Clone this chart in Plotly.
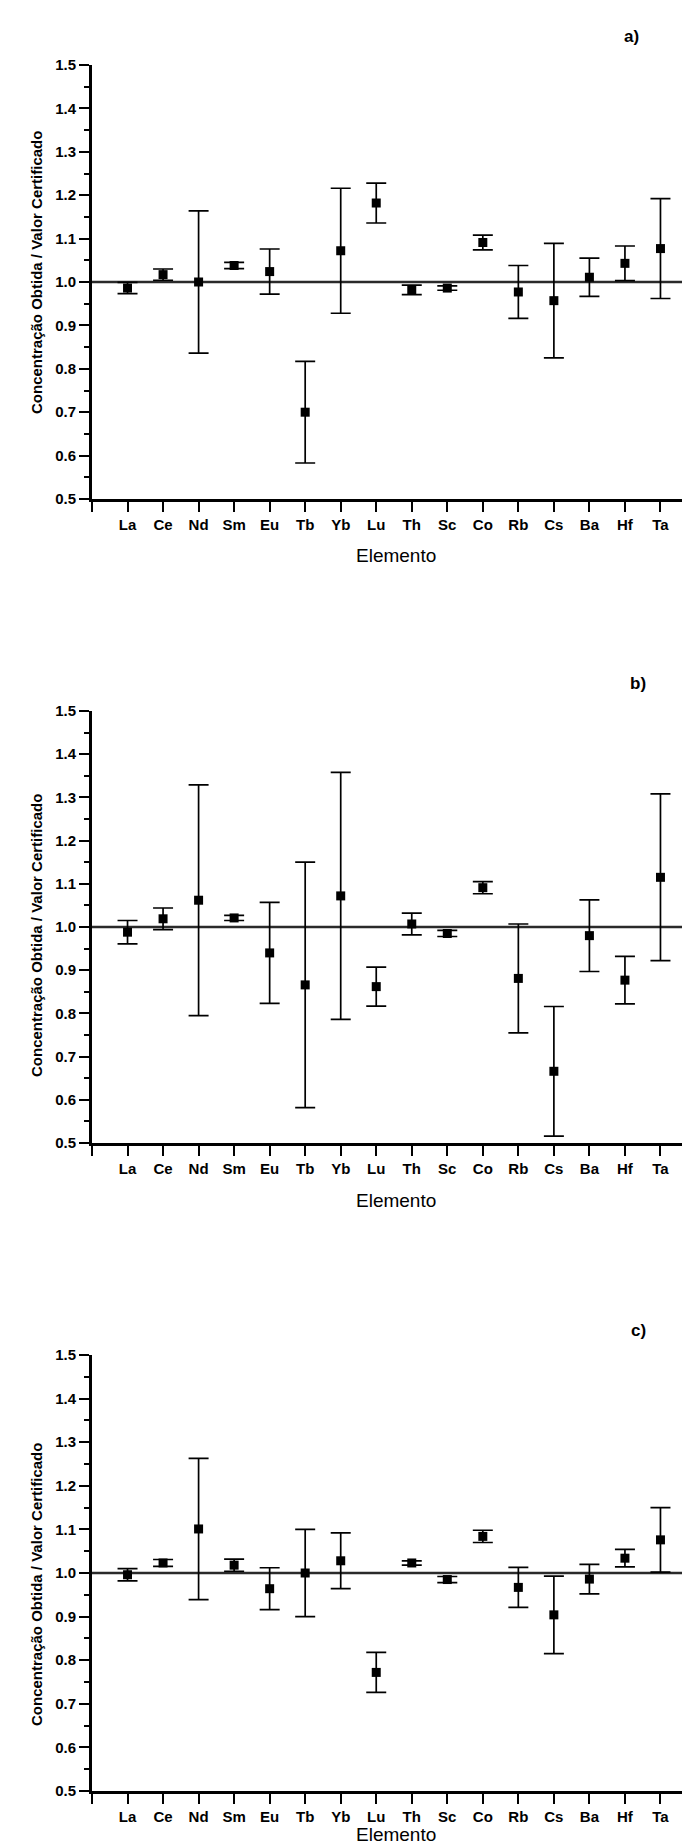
import plotly.graph_objects as go

# ---------------- data ----------------
elements = ["La", "Ce", "Nd", "Sm", "Eu", "Tb", "Yb", "Lu", "Th", "Sc", "Co", "Rb", "Cs", "Ba", "Hf", "Ta"]
positions = list(range(1, len(elements) + 1))

ratio_a = [0.986, 1.017, 1.000, 1.038, 1.024, 0.700, 1.072, 1.182, 0.982, 0.986, 1.091, 0.977, 0.957, 1.011, 1.043, 1.077]
err_a   = [0.013, 0.013, 0.164, 0.007, 0.052, 0.117, 0.144, 0.046, 0.011, 0.005, 0.017, 0.061, 0.132, 0.044, 0.040, 0.115]

ratio_b = [0.988, 1.019, 1.062, 1.021, 0.940, 0.866, 1.072, 0.862, 1.007, 0.985, 1.091, 0.881, 0.666, 0.980, 0.877, 1.115]
err_b   = [0.027, 0.025, 0.267, 0.006, 0.117, 0.284, 0.286, 0.045, 0.025, 0.007, 0.014, 0.126, 0.150, 0.083, 0.055, 0.193]

ratio_c = [0.996, 1.023, 1.101, 1.018, 0.964, 1.000, 1.028, 0.772, 1.023, 0.985, 1.084, 0.967, 0.904, 0.986, 1.034, 1.076]
err_c   = [0.014, 0.008, 0.162, 0.014, 0.048, 0.100, 0.064, 0.046, 0.005, 0.007, 0.014, 0.046, 0.089, 0.034, 0.020, 0.074]

panel_labels = ["a)", "b)", "c)"]
reference_value = 1.0
y_ticks = [0.5, 0.6, 0.7, 0.8, 0.9, 1.0, 1.1, 1.2, 1.3, 1.4, 1.5]
x_title = "Elemento"
y_title = "Concentração Obtida / Valor Certificado"

# ---------------- layout geometry (pixels) ----------------
W, H = 690, 1848
x_left_px, x_right_px = 84, 688
panels_px = [(57, 491), (703, 1135), (1347, 1783)]   # (top, bottom) of each y-axis
ytitle_center_px = [265, 928, 1577]
xtitle_center_px = [547, 1192, 1826]
label_px = [(623, 29), (630, 675), (630, 1322)]

FONT = "Liberation Sans, Arial, sans-serif"

def fx(px):
    return px / W

def fy(py):
    return 1 - py / H

fig = go.Figure()
datasets = [(ratio_a, err_a), (ratio_b, err_b), (ratio_c, err_c)]

layout_axes = {}
annotations = []
for i, ((vals, errs), (top, bot)) in enumerate(zip(datasets, panels_px)):
    n = i + 1
    xa = "x" if n == 1 else f"x{n}"
    ya = "y" if n == 1 else f"y{n}"
    # reference line at 1.0 across the full x range
    fig.add_trace(go.Scatter(
        x=[0, len(elements) + 1], y=[reference_value, reference_value],
        mode="lines", line=dict(color="#2a2a2a", width=2.6),
        xaxis=xa, yaxis=ya, showlegend=False, hoverinfo="skip"))
    fig.add_trace(go.Scatter(
        x=positions, y=vals, mode="markers",
        marker=dict(symbol="square", size=9, color="black"),
        error_y=dict(type="data", array=errs, visible=True, color="black",
                     thickness=1.7, width=10),
        xaxis=xa, yaxis=ya, showlegend=False))

    xkey = "xaxis" if n == 1 else f"xaxis{n}"
    ykey = "yaxis" if n == 1 else f"yaxis{n}"
    layout_axes[xkey] = dict(
        domain=[fx(x_left_px), fx(x_right_px)],
        anchor=ya, range=[0, len(elements) + 1],
        tickmode="array", tickvals=[0] + positions + [len(elements) + 1],
        ticktext=[""] + elements + [""],
        ticks="outside", ticklen=10, tickwidth=2, tickcolor="black",
        showline=True, linecolor="black", linewidth=2.8,
        showgrid=False, zeroline=False, automargin=False,
        tickfont=dict(family=FONT, size=15, color="black", weight="bold"),
    )
    layout_axes[ykey] = dict(
        domain=[fy(bot), fy(top)],
        anchor=xa, range=[0.5, 1.5],
        tickmode="array", tickvals=y_ticks,
        ticktext=[f"{v:.1f}" for v in y_ticks],
        ticks="outside", ticklen=10, tickwidth=2, tickcolor="black",
        minor=dict(dtick=0.05, tick0=0.5, ticks="outside", ticklen=5,
                   tickwidth=1.5, tickcolor="black", showgrid=False),
        showline=True, linecolor="black", linewidth=2.8,
        showgrid=False, zeroline=False, automargin=False,
        tickfont=dict(family=FONT, size=15, color="black", weight="bold"),
    )
    annotations.append(dict(
        text=y_title, xref="paper", yref="paper",
        x=fx(28), y=fy(ytitle_center_px[i]), xanchor="center", yanchor="middle",
        textangle=-90, showarrow=False,
        font=dict(family=FONT, size=15, color="black", weight="bold")))
    annotations.append(dict(
        text=x_title, xref="paper", yref="paper",
        x=fx(388), y=fy(xtitle_center_px[i]), xanchor="center", yanchor="middle",
        showarrow=False, font=dict(family=FONT, size=19, color="black")))
    lx, ly = label_px[i]
    annotations.append(dict(
        text=panel_labels[i], xref="paper", yref="paper",
        x=fx(lx), y=fy(ly), xanchor="center", yanchor="middle",
        showarrow=False,
        font=dict(family=FONT, size=17, color="black", weight="bold")))

fig.update_layout(
    width=W, height=H,
    margin=dict(l=0, r=0, t=0, b=0),
    paper_bgcolor="white", plot_bgcolor="white",
    annotations=annotations,
    **layout_axes,
)

fig.write_html("out.html")
